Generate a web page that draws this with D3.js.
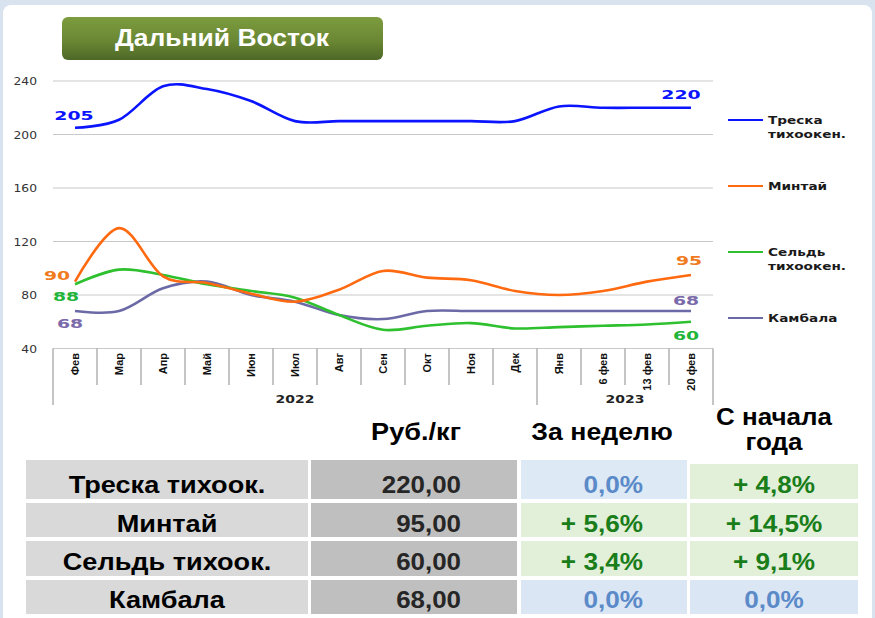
<!DOCTYPE html>
<html><head><meta charset="utf-8">
<script src="https://cdn.jsdelivr.net/npm/d3@7"></script>
<style>html,body{margin:0;padding:0;background:#fff;}svg{display:block;}</style>
</head><body>
<svg id="c" width="875" height="618"></svg>
<script>
// ---------- DATA ----------
const title = "Дальний Восток";
const months = ["Фев","Мар","Апр","Май","Июн","Июл","Авг","Сен","Окт","Ноя","Дек","Янв","6 фев","13 фев","20 фев"];
const years = ["2022","2023"];
const yearStart = [0, 11];          // first category index of each year
const yTicks = [40, 80, 120, 160, 200, 240];
const seriesNames = ["Треска тихоокен.", "Минтай", "Сельдь тихоокен.", "Камбала"];
const treska  = [205,211,236,234,225,210,210,210,210,210,210,221,220,220,220];
const mintai  = [90,130,94,89,81,75,84,98,93,91,83,80,83,90,95];
const seld    = [88,99,95,88,83,78,65,54,57,59,55,56,57,58,60];
const kambala = [68,68,85,90,80,75,65,62,68,68,68,68,68,68,68];

const tableHeaders = ["Руб./кг", "За неделю", "С начала|года"];
const tableRows = ["Треска тихоок.", "Минтай", "Сельдь тихоок.", "Камбала"];
const prices = ["220,00", "95,00", "60,00", "68,00"];
const weekChg = ["0,0%", "+ 5,6%", "+ 3,4%", "0,0%"];
const ytdChg = ["+ 4,8%", "+ 14,5%", "+ 9,1%", "0,0%"];

// ---------- STYLE ----------
const colors = ["#0a14ff", "#ff6a10", "#2ec02e", "#6c6aa6"];
const labelColors = ["#0a14ff", "#f07a1e", "#22b53a", "#7a6aaa"];

const svg = d3.select("#c");

function stext(g, x, y, txt, o) {
  o = o || {};
  return g.append("text")
    .attr("transform", `translate(${x},${y}) scale(${o.sx || 1},1)`)
    .attr("text-anchor", o.anchor || "start")
    .attr("font-family", o.family || "'Liberation Sans', Arial, sans-serif")
    .attr("font-weight", o.weight || "normal")
    .attr("font-size", o.size || 12)
    .attr("fill", o.fill || "#000")
    .text(txt);
}

// frame
svg.append("rect").attr("width", 875).attr("height", 618).attr("fill", "#d9e3f0");
svg.append("rect").attr("x", 3).attr("y", 5).attr("width", 869).attr("height", 640).attr("rx", 8).attr("fill", "#fff");

// title
const defs = svg.append("defs");
const grad = defs.append("linearGradient").attr("id", "tg").attr("x1", 0).attr("y1", 0).attr("x2", 0).attr("y2", 1);
grad.append("stop").attr("offset", "0%").attr("stop-color", "#7c9c3e");
grad.append("stop").attr("offset", "55%").attr("stop-color", "#6a8834");
grad.append("stop").attr("offset", "100%").attr("stop-color", "#4d6827");
svg.append("rect").attr("x", 62).attr("y", 17).attr("width", 321).attr("height", 43).attr("rx", 6).attr("fill", "url(#tg)");
stext(svg, 222, 46, title, {anchor: "middle", weight: "bold", size: 24.5, fill: "#fff", sx: 1.08});

// ---------- CHART ----------
const x = d3.scaleBand().domain(months).range([53, 713]).padding(0);
const y = d3.scaleLinear().domain([40, 240]).range([348.5, 81]);
const cx = m => x(m) + x.bandwidth() / 2;

const grid = svg.append("g");
yTicks.forEach(t => {
  grid.append("line").attr("x1", 53).attr("x2", 713).attr("y1", y(t)).attr("y2", y(t))
    .attr("stroke", "#c9c9c9").attr("stroke-width", 1.2);
  stext(grid, 37, y(t) + 4, t, {anchor: "end", size: 11, family: "'DejaVu Sans', sans-serif", fill: "#333", sx: 1.12});
});

// category axis
const ax = svg.append("g");
const bounds = d3.range(months.length + 1).map(i => i === months.length ? x.range()[1] : x(months[i]));
bounds.forEach((bx, i) => {
  const long = i === 0 || i === months.length || yearStart.includes(i);
  ax.append("line").attr("x1", bx).attr("x2", bx).attr("y1", 348.5).attr("y2", long ? 405 : 385)
    .attr("stroke", "#8a8a8a").attr("stroke-width", 1);
});
months.forEach(m => {
  ax.append("text")
    .attr("transform", `translate(${cx(m) + 4},353) rotate(-90)`)
    .attr("text-anchor", "end")
    .attr("font-family", "'Liberation Sans Narrow', 'Arial Narrow', 'Liberation Sans', sans-serif")
    .attr("font-weight", "bold").attr("font-size", 11).attr("fill", "#111")
    .text(m);
});
years.forEach((yr, i) => {
  const a = x(months[yearStart[i]]);
  const b = i + 1 < years.length ? x(months[yearStart[i + 1]]) : x.range()[1];
  stext(ax, (a + b) / 2, 403, yr, {anchor: "middle", weight: "bold", size: 10, family: "'DejaVu Sans', sans-serif", fill: "#222", sx: 1.4});
});

// lines
const allSeries = [treska, mintai, seld, kambala];
const line = d3.line().x((d, i) => cx(months[i])).y(d => y(d)).curve(d3.curveCardinal.tension(0));
const drawOrder = [3, 2, 1, 0];
drawOrder.forEach(si => {
  svg.append("path").attr("d", line(allSeries[si])).attr("fill", "none")
    .attr("stroke", colors[si]).attr("stroke-width", 2.6).attr("stroke-linejoin", "round");
});

// data labels (first & last values)
const labelOffsets = [
  {s: 0, first: [-1, -8], last: [-10, -9]},
  {s: 1, first: [-18, -2], last: [-2, -10]},
  {s: 2, first: [-9, 17], last: [-5, 18]},
  {s: 3, first: [-5, 17], last: [-5, -6]}
];
labelOffsets.forEach(o => {
  const data = allSeries[o.s];
  const f = data[0], l = data[data.length - 1];
  stext(svg, cx(months[0]) + o.first[0], y(f) + o.first[1], f,
    {anchor: "middle", weight: "bold", size: 13, family: "'DejaVu Sans', sans-serif", fill: labelColors[o.s], sx: 1.45});
  stext(svg, cx(months[months.length - 1]) + o.last[0], y(l) + o.last[1], l,
    {anchor: "middle", weight: "bold", size: 13, family: "'DejaVu Sans', sans-serif", fill: labelColors[o.s], sx: 1.45});
});

// legend
const lg = svg.append("g");
seriesNames.forEach((n, i) => {
  const ly = 120 + i * 66;
  lg.append("line").attr("x1", 728).attr("x2", 763).attr("y1", ly).attr("y2", ly)
    .attr("stroke", colors[i]).attr("stroke-width", 2.2);
  n.split(" ").forEach((part, j) => {
    stext(lg, 768, ly + 4 + j * 14, part, {weight: "bold", size: 11, family: "'DejaVu Sans', sans-serif", fill: "#1a1a1a", sx: 1.24});
  });
});

// ---------- TABLE ----------
const tg = svg.append("g");
const cols = [{x0: 26, x1: 308}, {x0: 311, x1: 517}, {x0: 521, x1: 687}, {x0: 690, x1: 858}];
const rowsY = [{y0: 460, y1: 499}, {y0: 503, y1: 537}, {y0: 541, y1: 576}, {y0: 580, y1: 614}];
const baselines = [493, 532, 570, 608];
const greenFill = "#e2efd9", blueFill = "#dbe6f4", greenText = "#197d19", blueText = "#5b8ac8";

// headers
stext(tg, 416, 440, tableHeaders[0], {anchor: "middle", weight: "bold", size: 23, sx: 1.18});
stext(tg, 602, 440, tableHeaders[1], {anchor: "middle", weight: "bold", size: 23, sx: 1.16});
tableHeaders[2].split("|").forEach((p, j) => {
  stext(tg, 774, 425 + j * 25, p, {anchor: "middle", weight: "bold", size: 23, sx: 1.13});
});

tableRows.forEach((r, i) => {
  const ry = rowsY[i];
  tg.append("rect").attr("x", cols[0].x0).attr("y", ry.y0).attr("width", cols[0].x1 - cols[0].x0).attr("height", ry.y1 - ry.y0).attr("fill", "#d9d9d9");
  tg.append("rect").attr("x", cols[1].x0).attr("y", ry.y0).attr("width", cols[1].x1 - cols[1].x0).attr("height", ry.y1 - ry.y0).attr("fill", "#bfbfbf");
  [weekChg[i], ytdChg[i]].forEach((v, k) => {
    const c = cols[2 + k];
    const pos = v.startsWith("+");
    tg.append("rect").attr("x", c.x0).attr("y", ry.y0 + (i === 0 && k === 1 ? 4 : 0)).attr("width", c.x1 - c.x0)
      .attr("height", ry.y1 - ry.y0 - (i === 0 && k === 1 ? 4 : 0))
      .attr("fill", pos ? greenFill : (i === 0 ? "#dde9f5" : blueFill));
  });
  stext(tg, (cols[0].x0 + cols[0].x1) / 2, baselines[i], r, {anchor: "middle", weight: "bold", size: 24, sx: 1.13});
  stext(tg, 461, baselines[i], prices[i], {anchor: "end", weight: "bold", size: 24, fill: "#262626", sx: 1.08});
  stext(tg, 643, baselines[i], weekChg[i], {anchor: "end", weight: "bold", size: 24, fill: weekChg[i].startsWith("+") ? greenText : blueText, sx: 1.09});
  stext(tg, 774, baselines[i], ytdChg[i], {anchor: "middle", weight: "bold", size: 24, fill: ytdChg[i].startsWith("+") ? greenText : blueText, sx: 1.09});
});
</script>
</body></html>
